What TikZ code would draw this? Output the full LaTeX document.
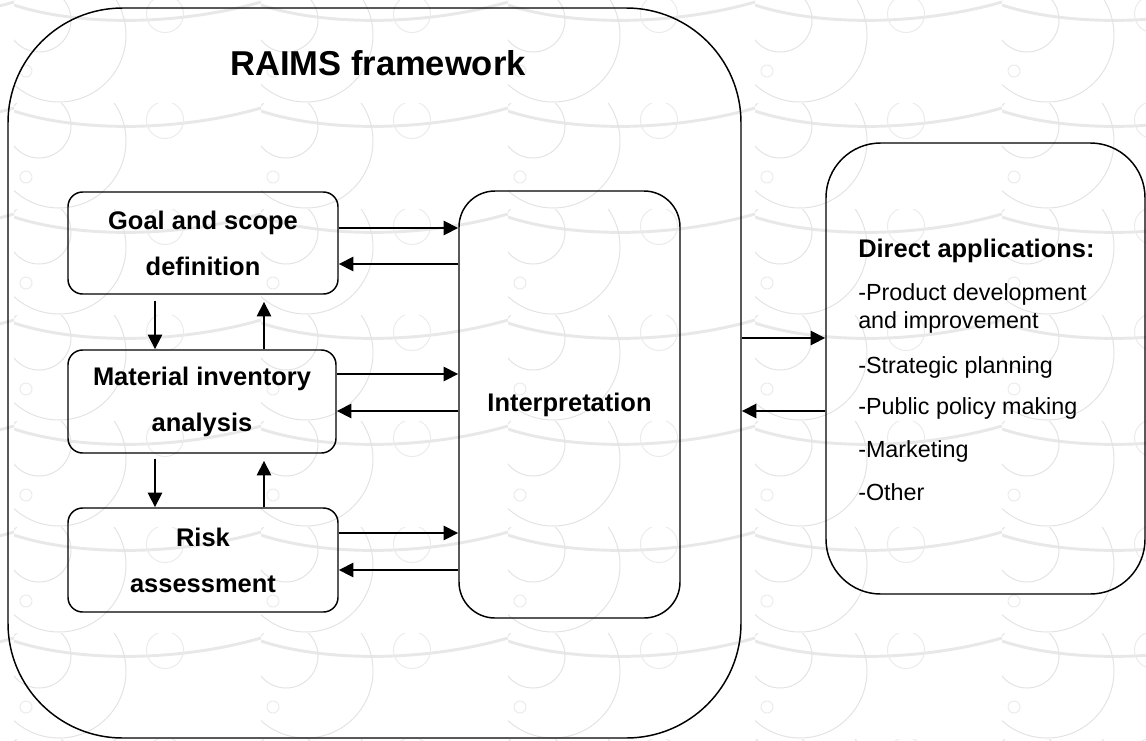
\documentclass[tikz,border=0pt]{standalone}
\usepackage{fontspec}
\setmainfont{Liberation Sans}
\usetikzlibrary{arrows.meta,calc}

\tikzset{
  wmline/.style={draw=black!11, line width=0.75pt},
  wmband/.style={draw=black!9, line width=2.2pt},
  stagebox/.style={draw, line width=1.1pt, rounded corners=11pt, inner sep=0pt,
    align=center, font=\fontsize{19.1}{34.5}\selectfont\bfseries},
  bigbox/.style={draw, line width=1.1pt, inner sep=0pt},
  link/.style={line width=2.1pt, -{Triangle[length=11pt,width=10.5pt]}},
  plainlabel/.style={inner sep=0pt, anchor=base west, font=\fontsize{17.5}{21}\selectfont},
  boldlabel/.style={inner sep=0pt, font=\fontsize{19.1}{23}\selectfont\bfseries},
}

\begin{document}
\begin{tikzpicture}[x=0.75pt, y=-0.75pt]
\useasboundingbox (0,0) rectangle (1146,740);

% light decorative background tiles
\foreach \i in {-1,...,4}{
  \foreach \j in {0,...,7}{
    \begin{scope}[shift={(14+247*\i,-3+106*\j)}]
      \clip (0,0) rectangle (247,106);
      \draw[wmband] (0,8) .. controls (60,28) and (160,30) .. (247,5);
      \draw[wmline] (45,38) circle[radius=50.25pt];
      \draw[wmline] (25,23) circle[radius=24pt];
      \draw[wmline, draw=black!8] (151,17) circle[radius=13.9pt];
      \draw[wmline, draw=black!8] (12,74) circle[radius=4.5pt];
    \end{scope}
  }
}

% outer frame and application box
\node[bigbox, rounded corners=86pt, minimum width=549.75pt, minimum height=547.5pt]
  (frame) at (374.5,373) {};
\node[boldlabel, anchor=base, font=\fontsize{25.9}{30}\selectfont\bfseries]
  (title) at (378,75) {RAIMS framework};

\node[bigbox, rounded corners=41pt, minimum width=239.25pt, minimum height=338.25pt]
  (apps) at (985.5,368.5) {};

% stage boxes
\node[stagebox, minimum width=202.5pt, minimum height=76.5pt] (goal) at (203,243)
  {Goal and scope\\definition};
\node[stagebox, minimum width=201pt, minimum height=77.25pt] (mat) at (202,401.5)
  {Material inventory\\analysis};
\node[stagebox, minimum width=202.5pt, minimum height=78pt] (risk) at (203,560)
  {Risk\\assessment};
\node[stagebox, rounded corners=27pt, minimum width=165.75pt, minimum height=320.25pt]
  (interp) at (569.5,404.5) {Interpretation};

% application list
\node[boldlabel, anchor=base west] (app0) at (858,257) {Direct applications:};
\node[plainlabel] (app1) at (858,300) {-Product development};
\node[plainlabel] (app2) at (858,328) {and improvement};
\node[plainlabel] (app3) at (858,373) {-Strategic planning};
\node[plainlabel] (app4) at (858,414) {-Public policy making};
\node[plainlabel] (app5) at (858,457) {-Marketing};
\node[plainlabel] (app6) at (858,500) {-Other};

% stages <-> interpretation
\draw[link] (goal.east |- 0,228) -- (interp.west |- 0,228);
\draw[link] (interp.west |- 0,264) -- (goal.east |- 0,264);
\draw[link] (mat.east |- 0,374) -- (interp.west |- 0,374);
\draw[link] (interp.west |- 0,411) -- (mat.east |- 0,411);
\draw[link] (risk.east |- 0,533) -- (interp.west |- 0,533);
\draw[link] (interp.west |- 0,570) -- (risk.east |- 0,570);

% between stages
\draw[link] ($(goal.south -| 155,0)+(0,6)$) -- (mat.north -| 155,0);
\draw[link] (mat.north -| 264,0) -- ($(goal.south -| 264,0)+(0,7)$);
\draw[link] ($(mat.south -| 155,0)+(0,5)$) -- (risk.north -| 155,0);
\draw[link] (risk.north -| 264,0) -- ($(mat.south -| 264,0)+(0,7)$);

% framework <-> applications
\draw[link] (frame.east |- 0,338) -- (apps.west |- 0,338);
\draw[link] (apps.west |- 0,411) -- (frame.east |- 0,411);
\end{tikzpicture}
\end{document}
